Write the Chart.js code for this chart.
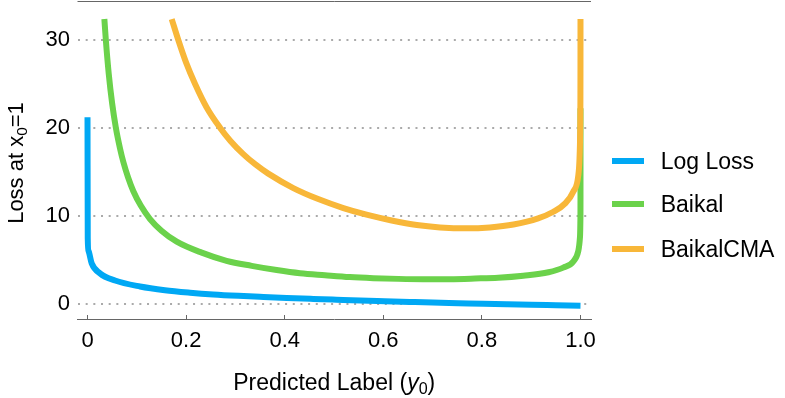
<!DOCTYPE html>
<html>
<head>
<meta charset="utf-8">
<script src="https://cdn.jsdelivr.net/npm/chart.js@4.4.1/dist/chart.umd.min.js"></script>
<style>
html, body { margin: 0; padding: 0; background: #fff; }
#wrap { position: relative; width: 785px; height: 398px; font-family: 'Liberation Sans', Arial, Helvetica, sans-serif; color: #000; overflow: hidden; }
#c { position: absolute; left: 0; top: 0; }
.xt { position: absolute; left: 77.5px; width: 513.5px; top: 370.5px; text-align: center; font-size: 23px; line-height: 23px; white-space: nowrap; }
.yt { position: absolute; left: -84.5px; width: 200px; top: 150px; height: 26px; line-height: 26px; text-align: center; font-size: 22px; transform: rotate(-90deg); transform-origin: 50% 50%; white-space: nowrap; }
sub { font-size: 0.7em; line-height: 0; vertical-align: -0.25em; }
.sw { position: absolute; left: 612px; width: 32px; height: 6px; }
.lt { position: absolute; left: 660.7px; height: 26px; line-height: 26px; font-size: 23px; white-space: nowrap; }
</style>
</head>
<body>
<div id="wrap">
  <canvas id="c" width="785" height="398"></canvas>
  <div class="yt">Loss at x<sub>0</sub>=1</div>
  <div class="xt">Predicted Label (<i>y</i><sub>0</sub>)</div>
  <div id="legend"></div>
</div>
<script>
// ---- data ----
const seriesNames = ['Log Loss', 'Baikal', 'BaikalCMA'];
const seriesColors = ['#00A8F4', '#6BD24B', '#F8B739'];

const xLog = [0, 0.0005, 0.002, 0.0085, 0.0253, 0.0558, 0.1065, 0.157, 0.208, 0.255, 0.306, 0.357, 0.404, 0.458, 0.505, 0.553, 0.603, 0.654, 0.7, 0.752, 0.803, 0.85, 0.9, 0.95, 1.0];
const yLog = [21.2, 7.4, 6.0, 4.58, 3.45, 2.63, 1.95, 1.53, 1.25, 1.05, 0.89, 0.76, 0.65, 0.54, 0.45, 0.36, 0.28, 0.2, 0.13, 0.06, -0.01, -0.07, -0.13, -0.18, -0.23];

const xBaikal = [0.0342, 0.0372, 0.043, 0.05, 0.0575, 0.066, 0.0727, 0.082, 0.093, 0.108, 0.1268, 0.15, 0.181, 0.2316, 0.282, 0.333, 0.3837, 0.431, 0.4817, 0.532, 0.58, 0.6305, 0.681, 0.735, 0.786, 0.833, 0.884, 0.935, 0.965, 0.9855, 0.9956, 0.999, 0.9999, 0.99999, 0.999999, 0.9999999, 0.99999999, 1.0];
const yBaikal = [32.35, 29.95, 26.16, 22.75, 20.0, 17.63, 16.1, 14.4, 12.78, 11.15, 9.62, 8.3, 7.05, 5.8, 4.87, 4.3, 3.82, 3.46, 3.23, 3.02, 2.9, 2.82, 2.78, 2.79, 2.86, 2.95, 3.18, 3.57, 4.1, 4.8, 6.0, 7.6, 10.0, 12.3, 14.6, 16.9, 19.2, 22.2];

const xCMA = [0.1708, 0.184, 0.2, 0.218, 0.2417, 0.2688, 0.29, 0.316, 0.34, 0.3667, 0.4175, 0.468, 0.519, 0.566, 0.617, 0.668, 0.715, 0.769, 0.816, 0.864, 0.914, 0.945, 0.969, 0.985, 0.9956, 0.998, 0.9993, 0.9998, 0.99995, 1.0];
const yCMA = [32.35, 30.0, 27.4, 25.0, 22.3, 20.0, 18.5, 17.0, 15.85, 14.78, 13.14, 11.89, 10.87, 10.12, 9.46, 8.94, 8.67, 8.56, 8.67, 9.0, 9.7, 10.45, 11.4, 12.7, 14.6, 16.5, 19.5, 23.0, 27.0, 32.35];

const xTickValues = [0, 0.2, 0.4, 0.6, 0.8, 1.0];
const yTickValues = [0, 10, 20, 30];

// ---- chart ----
const pairs = (xs, ys) => xs.map((x, i) => ({ x: x, y: ys[i] }));
const FONT = "'Liberation Sans', Arial, Helvetica, sans-serif";

const frameTop = {
  id: 'frameTop',
  afterDraw(c) {
    const { ctx, chartArea: a } = c;
    ctx.save();
    ctx.strokeStyle = '#666';
    ctx.lineWidth = 1;
    ctx.beginPath();
    ctx.moveTo(a.left, a.top + 0.5);
    ctx.lineTo(a.right, a.top + 0.5);
    ctx.stroke();
    ctx.restore();
  }
};

const allSeries = [pairs(xLog, yLog), pairs(xBaikal, yBaikal), pairs(xCMA, yCMA)];
const datasets = allSeries.map((d, i) => ({
  label: seriesNames[i],
  data: d,
  borderColor: seriesColors[i],
  backgroundColor: seriesColors[i],
  borderWidth: 6,
  pointRadius: 0,
  pointHoverRadius: 0,
  fill: false,
  cubicInterpolationMode: 'monotone',
  order: 3 - i
}));

const zeroPad = s => { s.paddingTop = 0; s.paddingBottom = 0; s.paddingLeft = 0; s.paddingRight = 0; };

const chart = new Chart(document.getElementById('c'), {
  type: 'line',
  data: { datasets: datasets },
  options: {
    responsive: false,
    animation: false,
    devicePixelRatio: 1,
    layout: { padding: { left: 0, right: 194, top: 1, bottom: 0 } },
    plugins: { legend: { display: false }, tooltip: { enabled: false } },
    scales: {
      x: {
        type: 'linear',
        min: -0.0203,
        max: 1.0213,
        afterBuildTicks: s => { s.ticks = xTickValues.map(v => ({ value: v })); },
        ticks: {
          includeBounds: false,
          autoSkip: false,
          maxRotation: 0,
          padding: 13,
          color: '#000',
          font: { family: FONT, size: 22 },
          callback: v => (v === 0 ? '0' : Number(v).toFixed(1))
        },
        grid: { display: true, drawOnChartArea: false, drawTicks: true, tickLength: -4, tickColor: '#666', tickWidth: 1 },
        border: { display: true, color: '#666', width: 1 },
        afterFit: s => { s.height = 79; zeroPad(s); }
      },
      y: {
        type: 'linear',
        min: -1.74,
        max: 34.4,
        afterBuildTicks: s => { s.ticks = yTickValues.map(v => ({ value: v })); },
        ticks: {
          includeBounds: false,
          padding: 7.5,
          color: '#000',
          font: { family: FONT, size: 22 },
          callback: v => String(v)
        },
        grid: { color: '#aaa', lineWidth: 2, drawTicks: false },
        border: { display: false, dash: [2, 5.67] },
        afterFit: s => { s.width = 77.5; zeroPad(s); }
      }
    }
  },
  plugins: [frameTop]
});

// ---- legend (HTML, built from the chart's datasets) ----
const legendCenters = [161, 203.5, 248.5];
const lg = document.getElementById('legend');
chart.data.datasets.forEach((ds, i) => {
  const sw = document.createElement('div');
  sw.className = 'sw';
  sw.style.top = (legendCenters[i] - 3) + 'px';
  sw.style.background = ds.borderColor;
  lg.appendChild(sw);
  const t = document.createElement('div');
  t.className = 'lt';
  t.style.top = (legendCenters[i] - 13) + 'px';
  t.textContent = ds.label;
  lg.appendChild(t);
});
</script>
</body>
</html>
